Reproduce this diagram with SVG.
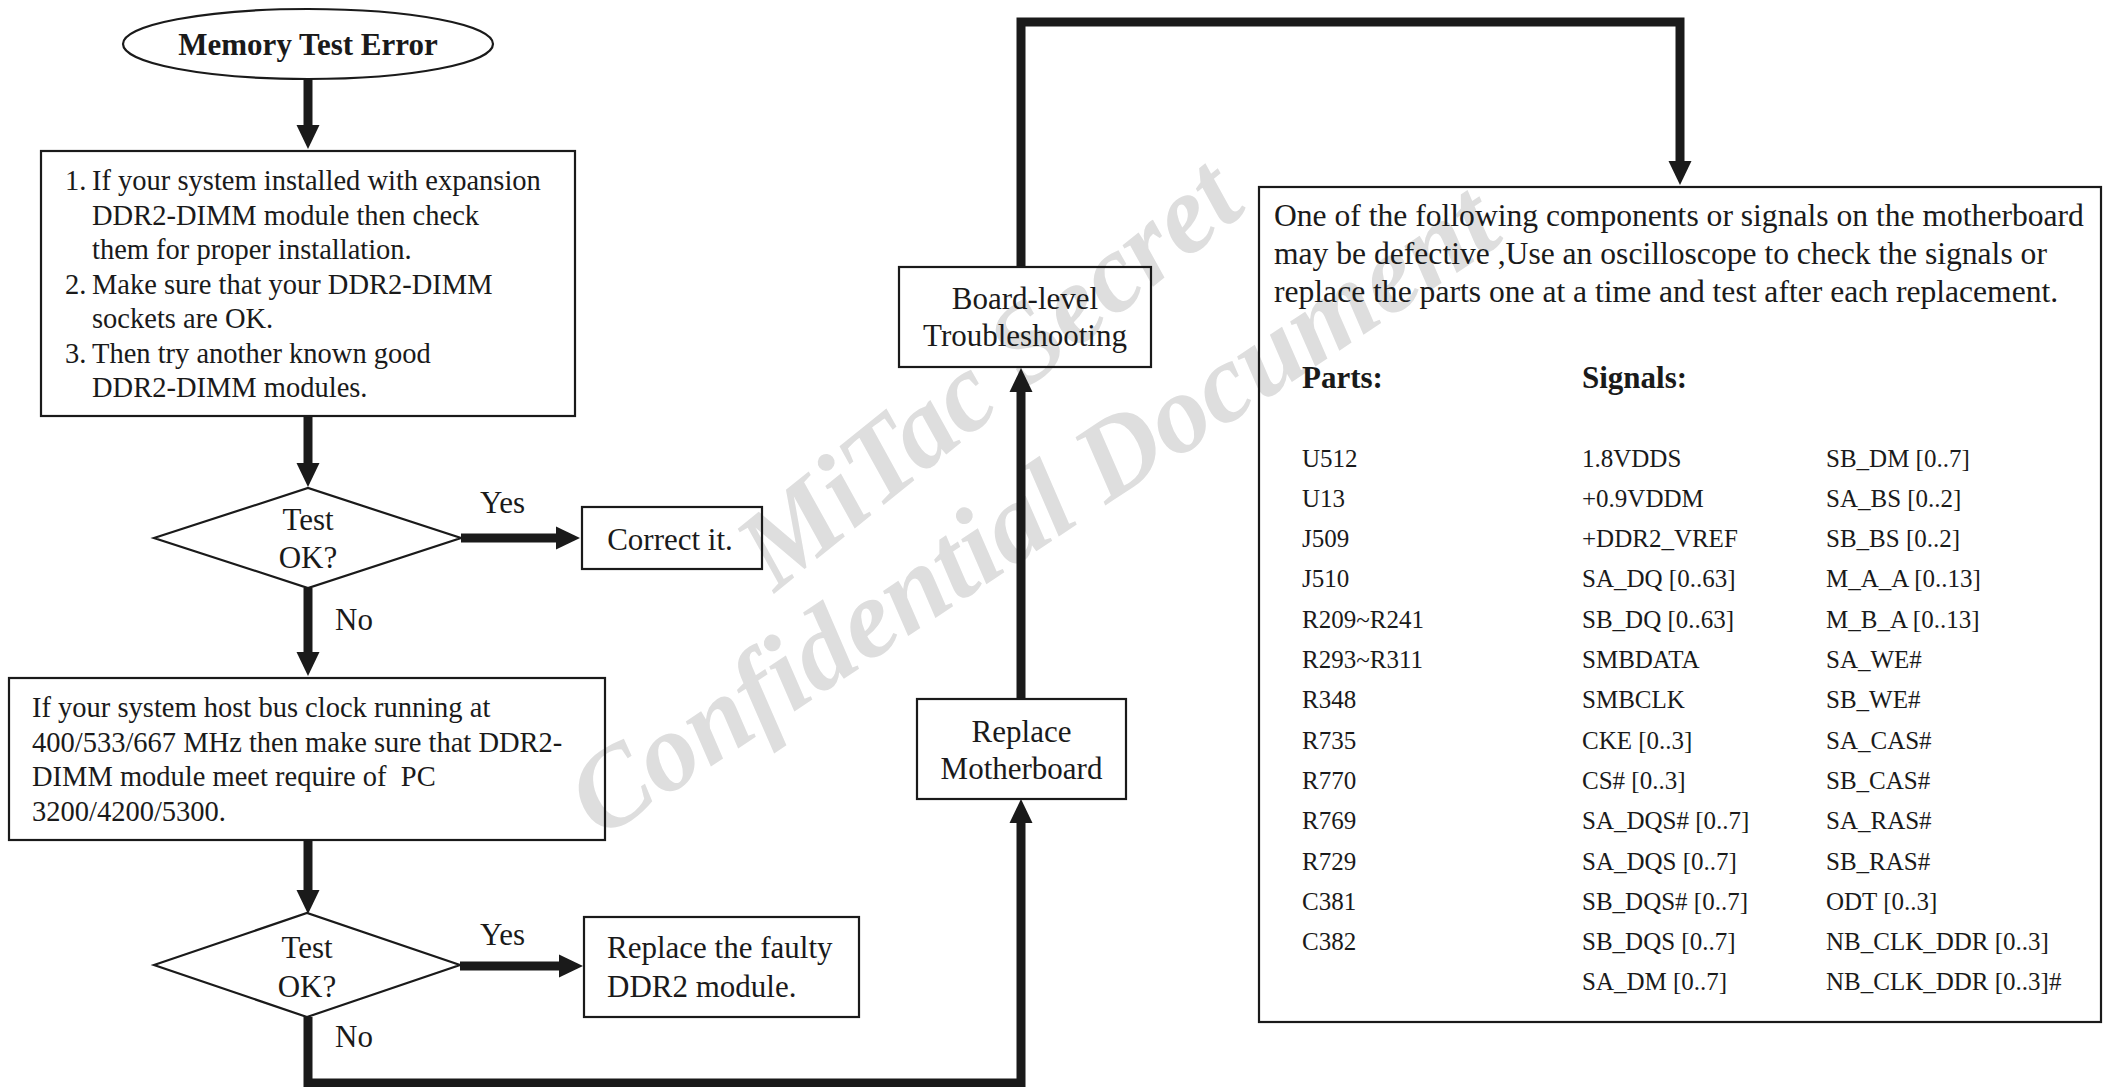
<svg xmlns="http://www.w3.org/2000/svg" width="2111" height="1087" viewBox="0 0 2111 1087">
<style>
text{font-family:"Liberation Serif","Times New Roman",serif;fill:#1a1a1a}
.t{font-size:28.5px}
.m{font-size:31px}
.h{font-size:31.6px}
.mc{font-size:31px;text-anchor:middle}
.b{font-weight:bold;font-size:31px}
.s{font-size:25px}
.box{fill:none;stroke:#1a1a1a;stroke-width:2.2}
.con{fill:none;stroke:#1a1a1a;stroke-width:9;stroke-linejoin:miter;stroke-linecap:butt;marker-end:url(#ah)}
.wm{font-family:"Liberation Serif","Times New Roman",serif;font-weight:bold;font-style:italic;font-size:112px;fill:#dedede}
</style>
<defs>
<marker id="ah" markerUnits="userSpaceOnUse" markerWidth="24" markerHeight="24" refX="0" refY="11.5" orient="auto" overflow="visible">
<path d="M0,0 L24,11.5 L0,23 Z" fill="#1a1a1a"/>
</marker>
</defs>
<rect width="2111" height="1087" fill="#ffffff"/>
<g id="watermark">
<text class="wm" transform="translate(775,593) rotate(-39)">MiTac Secret</text>
<text class="wm" transform="translate(600,840) rotate(-33.5)">Confidential Document</text>
</g>
<g id="connectors">
<path class="con" d="M308,79 V125"/>
<path class="con" d="M308,416 V463"/>
<path class="con" d="M461,538 H556"/>
<path class="con" d="M308,588 V652"/>
<path class="con" d="M308,840 V890"/>
<path class="con" d="M460,966 H559"/>
<path class="con" d="M308,1017 V1083 H1021 V823"/>
<path class="con" d="M1021,699 V392"/>
<path class="con" d="M1021,267 V22 H1680 V161"/>
</g>
<g id="start">
<ellipse class="box" cx="308" cy="44" rx="185" ry="35"/>
<text class="b" x="308" y="55" text-anchor="middle">Memory Test Error</text>
</g>
<g id="check-install">
<rect class="box" x="41" y="151" width="534" height="265"/>
<text class="t" x="65" y="190">1.</text>
<text class="t" x="92" y="190">If your system installed with expansion</text>
<text class="t" x="92" y="224.5">DDR2-DIMM module then check</text>
<text class="t" x="92" y="259">them for proper installation.</text>
<text class="t" x="65" y="293.5">2.</text>
<text class="t" x="92" y="293.5">Make sure that your DDR2-DIMM</text>
<text class="t" x="92" y="328">sockets are OK.</text>
<text class="t" x="65" y="362.5">3.</text>
<text class="t" x="92" y="362.5">Then try another known good</text>
<text class="t" x="92" y="397">DDR2-DIMM modules.</text>
</g>
<g id="test1">
<polygon class="box" points="154,538 308,488 461,538 308,588"/>
<text class="mc" x="308" y="530">Test</text>
<text class="mc" x="308" y="568">OK?</text>
</g>
<text class="m" x="480" y="513">Yes</text>
<text class="m" x="335" y="630">No</text>
<g id="correct">
<rect class="box" x="582" y="507" width="180" height="62"/>
<text class="mc" x="670" y="550">Correct it.</text>
</g>
<g id="check-clock">
<rect class="box" x="9" y="678" width="596" height="162"/>
<text class="t" x="32" y="717">If your system host bus clock running at</text>
<text class="t" x="32" y="751.5">400/533/667 MHz then make sure that DDR2-</text>
<text class="t" x="32" y="786">DIMM module meet require of&#160; PC</text>
<text class="t" x="32" y="820.5">3200/4200/5300.</text>
</g>
<g id="test2">
<polygon class="box" points="154,965 307,913 460,965 307,1017"/>
<text class="mc" x="307" y="958">Test</text>
<text class="mc" x="307" y="997">OK?</text>
</g>
<text class="m" x="480" y="945">Yes</text>
<text class="m" x="335" y="1047">No</text>
<g id="replace-module">
<rect class="box" x="584" y="917" width="275" height="100"/>
<text class="m" x="607" y="958">Replace the faulty</text>
<text class="m" x="607" y="997">DDR2 module.</text>
</g>
<g id="replace-mb">
<rect class="box" x="917" y="699" width="209" height="100"/>
<text class="mc" x="1021.5" y="742">Replace</text>
<text class="mc" x="1021.5" y="779">Motherboard</text>
</g>
<g id="board-level">
<rect class="box" x="899" y="267" width="252" height="100"/>
<text class="mc" x="1025" y="309">Board-level</text>
<text class="mc" x="1025" y="346">Troubleshooting</text>
</g>
<g id="parts-list">
<rect class="box" x="1259" y="187" width="842" height="835"/>
<text class="h" x="1274" y="226">One of the following components or signals on the motherboard</text>
<text class="h" x="1274" y="264">may be defective ,Use an oscilloscope to check the signals or</text>
<text class="h" x="1274" y="302">replace the parts one at a time and test after each replacement.</text>
<text class="b" x="1302" y="388">Parts:</text>
<text class="b" x="1582" y="388">Signals:</text>
<g>
<text class="s" x="1302" y="466.5">U512</text><text class="s" x="1582" y="466.5">1.8VDDS</text><text class="s" x="1826" y="466.5">SB_DM [0..7]</text>
<text class="s" x="1302" y="506.8">U13</text><text class="s" x="1582" y="506.8">+0.9VDDM</text><text class="s" x="1826" y="506.8">SA_BS [0..2]</text>
<text class="s" x="1302" y="547.1">J509</text><text class="s" x="1582" y="547.1">+DDR2_VREF</text><text class="s" x="1826" y="547.1">SB_BS [0..2]</text>
<text class="s" x="1302" y="587.4">J510</text><text class="s" x="1582" y="587.4">SA_DQ [0..63]</text><text class="s" x="1826" y="587.4">M_A_A [0..13]</text>
<text class="s" x="1302" y="627.7">R209~R241</text><text class="s" x="1582" y="627.7">SB_DQ [0..63]</text><text class="s" x="1826" y="627.7">M_B_A [0..13]</text>
<text class="s" x="1302" y="668">R293~R311</text><text class="s" x="1582" y="668">SMBDATA</text><text class="s" x="1826" y="668">SA_WE#</text>
<text class="s" x="1302" y="708.3">R348</text><text class="s" x="1582" y="708.3">SMBCLK</text><text class="s" x="1826" y="708.3">SB_WE#</text>
<text class="s" x="1302" y="748.6">R735</text><text class="s" x="1582" y="748.6">CKE [0..3]</text><text class="s" x="1826" y="748.6">SA_CAS#</text>
<text class="s" x="1302" y="788.9">R770</text><text class="s" x="1582" y="788.9">CS# [0..3]</text><text class="s" x="1826" y="788.9">SB_CAS#</text>
<text class="s" x="1302" y="829.2">R769</text><text class="s" x="1582" y="829.2">SA_DQS# [0..7]</text><text class="s" x="1826" y="829.2">SA_RAS#</text>
<text class="s" x="1302" y="869.5">R729</text><text class="s" x="1582" y="869.5">SA_DQS [0..7]</text><text class="s" x="1826" y="869.5">SB_RAS#</text>
<text class="s" x="1302" y="909.8">C381</text><text class="s" x="1582" y="909.8">SB_DQS# [0..7]</text><text class="s" x="1826" y="909.8">ODT [0..3]</text>
<text class="s" x="1302" y="950.1">C382</text><text class="s" x="1582" y="950.1">SB_DQS [0..7]</text><text class="s" x="1826" y="950.1">NB_CLK_DDR [0..3]</text>
<text class="s" x="1582" y="990.4">SA_DM [0..7]</text><text class="s" x="1826" y="990.4">NB_CLK_DDR [0..3]#</text>
</g>
</g>
</svg>
